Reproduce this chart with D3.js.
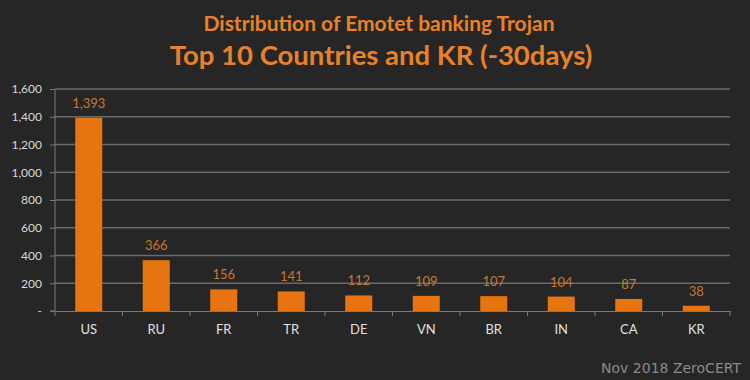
<!DOCTYPE html>
<html><head><meta charset="utf-8">
<script src="https://cdn.jsdelivr.net/npm/d3@7"></script>
<style>
html,body{margin:0;padding:0;background:#262626;}
svg{display:block;}
</style></head>
<body>
<svg id="chart" width="750" height="380"></svg>
<script>
const categories = ["US","RU","FR","TR","DE","VN","BR","IN","CA","KR"];
const values = [1393,366,156,141,112,109,107,104,87,38];
const yTicks = [0,200,400,600,800,1000,1200,1400,1600];
const titleLine1 = "Distribution of Emotet banking Trojan";
const titleLine2 = "Top 10 Countries and KR (-30days)";
const footer = "Nov 2018 ZeroCERT";

const svg = d3.select("#chart");
svg.append("rect").attr("width",750).attr("height",380).attr("fill","#262626");

const m = {left:55, right:730, top:89, bottom:311};
const y = d3.scaleLinear().domain([0,1600]).range([m.bottom,m.top]);

// gridlines
svg.append("g").selectAll("line").data(yTicks.filter(d=>d>0)).join("line")
  .attr("x1",m.left).attr("x2",m.right)
  .attr("y1",d=>y(d)).attr("y2",d=>y(d))
  .attr("stroke","#6a6a6a").attr("stroke-width",1.3);

// y axis
const yAxis = d3.axisLeft(y).tickValues(yTicks).tickSize(5).tickPadding(8)
  .tickFormat(d=> d===0 ? "-" : d3.format(",")(d));
const gy = svg.append("g").attr("transform",`translate(${m.left},0)`).call(yAxis);
gy.select(".domain").attr("stroke","#7a7a7a").attr("d",`M-5,${m.bottom}H0V${m.top}`);
gy.selectAll(".tick line").attr("stroke","#7a7a7a");
gy.selectAll(".tick text").attr("fill","#d8d8d8").style("font-family","Lato, 'Open Sans', sans-serif").style("font-size","12px");

// x axis
const xOuter = d3.scaleBand().domain(categories).range([m.left,m.right]);
const xAxis = d3.axisBottom(xOuter).tickSize(0).tickPadding(14);
const gx = svg.append("g").attr("transform",`translate(0,${m.bottom})`).call(xAxis);
gx.select(".domain").attr("stroke","#7a7a7a");
gx.selectAll(".tick text").attr("fill","#e0e0e0").style("font-family","Lato, 'Open Sans', sans-serif").style("font-size","13px");
// category boundary ticks
svg.append("g").selectAll("line").data(categories).join("line")
  .attr("x1",d=>xOuter(d)+xOuter.bandwidth()).attr("x2",d=>xOuter(d)+xOuter.bandwidth())
  .attr("y1",m.bottom).attr("y2",m.bottom+5).attr("stroke","#7a7a7a");
svg.append("line").attr("x1",m.left).attr("x2",m.left).attr("y1",m.bottom).attr("y2",m.bottom+5).attr("stroke","#7a7a7a");

// bars
const bw = xOuter.bandwidth()*0.4;
svg.append("g").selectAll("rect").data(categories).join("rect")
  .attr("x",(d)=>xOuter(d)+xOuter.bandwidth()/2-bw/2)
  .attr("width",bw)
  .attr("y",(d,i)=>y(values[i]))
  .attr("height",(d,i)=>y(0)-y(values[i]))
  .attr("fill","#e8740f");

// value labels
svg.append("g").selectAll("text").data(categories).join("text")
  .attr("x",d=>xOuter(d)+xOuter.bandwidth()/2)
  .attr("y",(d,i)=>y(values[i])-10)
  .attr("text-anchor","middle")
  .attr("fill","#c8782f")
  .style("font-family","Lato, 'Open Sans', sans-serif").style("font-size","13px")
  .text((d,i)=>d3.format(",")(values[i]));

// titles
svg.append("text").attr("x",379).attr("y",31).attr("text-anchor","middle")
  .attr("fill","#e8822a").style("font-family","Lato, sans-serif").style("font-weight","bold").style("font-size","21px")
  .text(titleLine1);
svg.append("text").attr("x",381).attr("y",65).attr("text-anchor","middle")
  .attr("fill","#e8822a").style("font-family","Lato, sans-serif").style("font-weight","bold").style("font-size","27.5px")
  .text(titleLine2);

// footer
svg.append("text").attr("x",741).attr("y",373).attr("text-anchor","end")
  .attr("fill","#8a8a8a").style("font-family","'DejaVu Sans', sans-serif").style("font-size","14px")
  .text(footer);
</script>
</body></html>
